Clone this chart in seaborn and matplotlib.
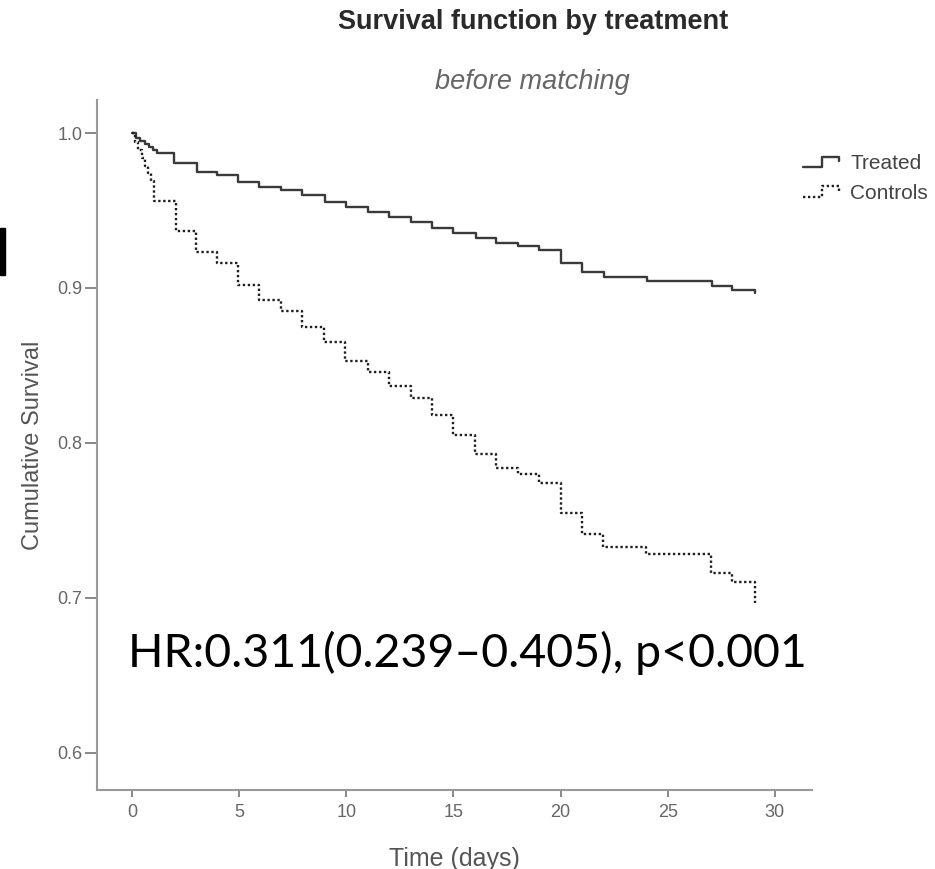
import matplotlib
matplotlib.use("Agg")
import matplotlib.pyplot as plt
from matplotlib.lines import Line2D
from matplotlib.patches import Rectangle
from matplotlib.legend_handler import HandlerBase
import seaborn as sns
import pandas as pd

# Kaplan-Meier steps (time in days, cumulative survival)
treated_time = [0, 0.2, 0.4, 0.6, 0.8, 1.0, 1.15, 1.95, 3.05, 3.95, 4.95, 5.95,
                6.95, 7.95, 9.0, 10.0, 11.0, 12.0, 13.0, 14.0, 15.0, 16.05,
                17.0, 18.0, 19.0, 20.0, 21.0, 22.05, 24.05, 27.05, 28.0, 29.05]
treated_surv = [1.0, 0.997, 0.995, 0.993, 0.991, 0.989, 0.987, 0.9805, 0.975,
                0.973, 0.9686, 0.9654, 0.9632, 0.960, 0.9557, 0.9525, 0.949,
                0.946, 0.9425, 0.939, 0.9355, 0.932, 0.929, 0.927, 0.9245,
                0.916, 0.910, 0.9073, 0.9045, 0.901, 0.8987, 0.897]

controls_time = [0, 0.15, 0.3, 0.45, 0.6, 0.75, 0.9, 1.05, 2.05, 3.0, 3.95,
                 4.95, 5.95, 6.95, 7.95, 8.95, 9.95, 11.0, 12.0, 13.0, 14.0,
                 15.0, 16.0, 17.0, 18.0, 19.0, 20.0, 21.0, 22.0, 24.0, 27.0,
                 28.0, 29.05]
controls_surv = [1.0, 0.994, 0.989, 0.984, 0.979, 0.974, 0.969, 0.956, 0.937,
                 0.923, 0.916, 0.902, 0.892, 0.885, 0.875, 0.865, 0.853, 0.846,
                 0.837, 0.829, 0.818, 0.805, 0.793, 0.784, 0.780, 0.774, 0.755,
                 0.741, 0.733, 0.728, 0.716, 0.7105, 0.697]

groups = ["Treated", "Controls"]
x_ticks = [0, 5, 10, 15, 20, 25, 30]
y_ticks = [0.6, 0.7, 0.8, 0.9, 1.0]
hr_text = "HR:0.311(0.239\u20130.405), p<0.001"

df = pd.concat([
    pd.DataFrame({"time": treated_time, "survival": treated_surv, "group": "Treated"}),
    pd.DataFrame({"time": controls_time, "survival": controls_surv, "group": "Controls"}),
])


class StepHandler(HandlerBase):
    # little step glyph like the SPSS legend
    def create_artists(self, legend, orig_handle, xdescent, ydescent,
                       width, height, fontsize, trans):
        fx = [0.0, 0.45, 0.45, 0.85, 0.85]
        fy = [0.15, 0.15, 0.85, 0.85, 0.55]
        xs = [-xdescent + f * width for f in fx]
        ys = [-ydescent + f * height for f in fy]
        line = Line2D(xs, ys)
        line.update_from(orig_handle)
        line.set_transform(trans)
        return [line]


sns.set_style("white")
plt.rcParams["font.family"] = ["Liberation Sans", "DejaVu Sans"]

fig = plt.figure(figsize=(9.35, 8.69), dpi=100)
ax = fig.add_axes([0.1037, 0.0909, 0.7647, 0.7940])

colors = {"Treated": "#3a3a3a", "Controls": "#1e1e1e"}
sns.lineplot(data=df, x="time", y="survival", hue="group", style="group",
             palette=colors, dashes={"Treated": "", "Controls": (1, 1.1)},
             drawstyle="steps-post", estimator=None, sort=False,
             linewidth=1.7, legend=False, ax=ax)

ax.set_xlim(-1.63, 31.73)
ax.set_ylim(0.576, 1.0213)
ax.set_xticks(x_ticks)
ax.set_yticks(y_ticks)
ax.set_yticklabels([f"{v:.1f}" for v in y_ticks])
sns.despine(ax=ax)
for side in ["left", "bottom"]:
    ax.spines[side].set_color("#999999")
    ax.spines[side].set_linewidth(1.5)
ax.tick_params(axis="x", bottom=True, direction="out", length=5, width=1.4,
               color="#888888", pad=5, labelsize=13, labelcolor="#666666")
ax.tick_params(axis="y", left=True, direction="out", length=8.5, width=1.4,
               color="#888888", pad=2, labelsize=13, labelcolor="#666666")

ax.set_xlabel("Time (days)", fontsize=18, color="#555555")
ax.set_ylabel("Cumulative Survival", fontsize=17, color="#555555")
ax.xaxis.set_label_coords(0.5, -0.082)
ax.yaxis.set_label_coords(-0.074, 0.5)

fig.text(0.570, 0.9747, "Survival function by treatment", fontsize=19.5,
         fontweight="bold", color="#2a2a2a", ha="center", va="center")
fig.text(0.569, 0.9056, "before matching", fontsize=19.5, style="italic",
         color="#666666", ha="center", va="center")

handles = [
    Line2D([], [], color=colors["Treated"], linewidth=1.7),
    Line2D([], [], color=colors["Controls"], linewidth=1.7, linestyle=(0, (1, 1.1))),
]
fig.legend(handles, groups, loc="center left", bbox_to_anchor=(0.859, 0.7945),
           frameon=False, handler_map={Line2D: StepHandler()}, fontsize=15,
           handlelength=2.0, handletextpad=0.25, labelspacing=0.5,
           borderaxespad=0, borderpad=0, labelcolor="#444444")

fig.text(0.137, 0.2325, hr_text, fontsize=33.5, family=["Lato", "DejaVu Sans"],
         color="black", ha="left", va="baseline")

fig.add_artist(Rectangle((0, 1 - 275 / 869), 5 / 935, 47 / 869,
                         transform=fig.transFigure, color="black"))

fig.savefig("out.png", dpi=100)
plt.close(fig)
